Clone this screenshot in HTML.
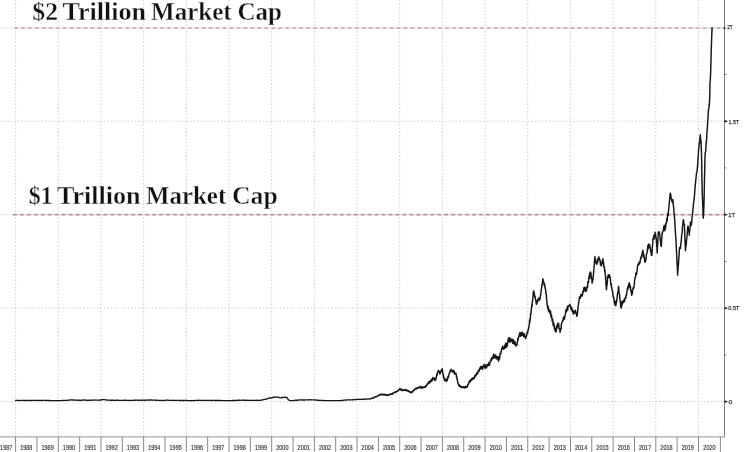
<!DOCTYPE html>
<html><head><meta charset="utf-8"><title>Market Cap</title>
<style>
html,body{margin:0;padding:0;background:#fff;}
body{width:750px;height:452px;overflow:hidden;position:relative;}
svg{position:absolute;left:0;top:0;}
.gv,.gh{stroke:#c8c8c8;stroke-width:1;stroke-dasharray:1.3 2.15;fill:none;}
.gh{stroke-dashoffset:3.1;}
.gv{stroke-dashoffset:3.2;}
.rh{stroke:#f3dbe0;stroke-width:2.2;fill:none;}
.r{stroke:#8c7580;stroke-width:1.1;stroke-dasharray:3.8 3.155;fill:none;}
.rh.top{stroke:#f8e8ec;stroke-width:1.8;}
.r.top{stroke:#8f7f86;stroke-width:0.9;}
.ax{stroke:#7a7a7a;stroke-width:1;}
.bx{stroke:#a8a8a8;stroke-width:1.2;}
.tk{stroke:#7c7c7c;stroke-width:0.9;}
.tri{fill:#222;}
.mt{stroke:#555;stroke-width:0.8;}
.ln{fill:none;stroke:#151515;stroke-width:1.3;stroke-linejoin:round;stroke-linecap:round;}
.ln2{stroke-width:1.45;}
.yl{font-family:"Liberation Sans",sans-serif;font-size:6.8px;fill:#444;stroke:#444;stroke-width:0.2;}
.rl{font-family:"Liberation Sans",sans-serif;font-size:6px;fill:#333;stroke:#333;stroke-width:0.25;}
.tt{font-family:"Liberation Serif",serif;font-weight:bold;font-size:25px;fill:#111;stroke:#fff;stroke-width:0.35;}
</style></head>
<body>
<svg width="750" height="452" viewBox="0 0 750 452">
<line x1="15.60" y1="0" x2="15.60" y2="436.8" class="gv"/>
<line x1="58.28" y1="0" x2="58.28" y2="436.8" class="gv"/>
<line x1="100.96" y1="0" x2="100.96" y2="436.8" class="gv"/>
<line x1="143.64" y1="0" x2="143.64" y2="436.8" class="gv"/>
<line x1="186.32" y1="0" x2="186.32" y2="436.8" class="gv"/>
<line x1="229.00" y1="0" x2="229.00" y2="436.8" class="gv"/>
<line x1="271.68" y1="0" x2="271.68" y2="436.8" class="gv"/>
<line x1="314.36" y1="0" x2="314.36" y2="436.8" class="gv"/>
<line x1="357.04" y1="0" x2="357.04" y2="436.8" class="gv"/>
<line x1="399.72" y1="0" x2="399.72" y2="436.8" class="gv"/>
<line x1="442.40" y1="0" x2="442.40" y2="436.8" class="gv"/>
<line x1="485.08" y1="0" x2="485.08" y2="436.8" class="gv"/>
<line x1="527.76" y1="0" x2="527.76" y2="436.8" class="gv"/>
<line x1="570.44" y1="0" x2="570.44" y2="436.8" class="gv"/>
<line x1="613.12" y1="0" x2="613.12" y2="436.8" class="gv"/>
<line x1="655.80" y1="0" x2="655.80" y2="436.8" class="gv"/>
<line x1="698.48" y1="0" x2="698.48" y2="436.8" class="gv"/>
<line x1="0" y1="401.60" x2="724.5" y2="401.60" class="gh"/>
<line x1="0" y1="308.15" x2="724.5" y2="308.15" class="gh"/>
<line x1="0" y1="214.70" x2="724.5" y2="214.70" class="gh"/>
<line x1="0" y1="121.25" x2="724.5" y2="121.25" class="gh"/>
<line x1="0" y1="27.80" x2="724.5" y2="27.80" class="gh"/>
<line x1="13.05" y1="214.70" x2="724.5" y2="214.70" class="rh"/>
<line x1="13.05" y1="214.70" x2="724.5" y2="214.70" class="r"/>
<line x1="14.05" y1="28.10" x2="724.5" y2="28.10" class="rh top"/>
<line x1="14.05" y1="28.10" x2="724.5" y2="28.10" class="r top"/>
<line x1="724.5" y1="0" x2="724.5" y2="437.3" class="ax"/>
<line x1="0" y1="436.8" x2="725.0" y2="436.8" class="bx"/>
<line x1="15.60" y1="436.8" x2="15.60" y2="452" class="tk"/>
<line x1="36.94" y1="436.8" x2="36.94" y2="452" class="tk"/>
<line x1="58.28" y1="436.8" x2="58.28" y2="452" class="tk"/>
<line x1="79.62" y1="436.8" x2="79.62" y2="452" class="tk"/>
<line x1="100.96" y1="436.8" x2="100.96" y2="452" class="tk"/>
<line x1="122.30" y1="436.8" x2="122.30" y2="452" class="tk"/>
<line x1="143.64" y1="436.8" x2="143.64" y2="452" class="tk"/>
<line x1="164.98" y1="436.8" x2="164.98" y2="452" class="tk"/>
<line x1="186.32" y1="436.8" x2="186.32" y2="452" class="tk"/>
<line x1="207.66" y1="436.8" x2="207.66" y2="452" class="tk"/>
<line x1="229.00" y1="436.8" x2="229.00" y2="452" class="tk"/>
<line x1="250.34" y1="436.8" x2="250.34" y2="452" class="tk"/>
<line x1="271.68" y1="436.8" x2="271.68" y2="452" class="tk"/>
<line x1="293.02" y1="436.8" x2="293.02" y2="452" class="tk"/>
<line x1="314.36" y1="436.8" x2="314.36" y2="452" class="tk"/>
<line x1="335.70" y1="436.8" x2="335.70" y2="452" class="tk"/>
<line x1="357.04" y1="436.8" x2="357.04" y2="452" class="tk"/>
<line x1="378.38" y1="436.8" x2="378.38" y2="452" class="tk"/>
<line x1="399.72" y1="436.8" x2="399.72" y2="452" class="tk"/>
<line x1="421.06" y1="436.8" x2="421.06" y2="452" class="tk"/>
<line x1="442.40" y1="436.8" x2="442.40" y2="452" class="tk"/>
<line x1="463.74" y1="436.8" x2="463.74" y2="452" class="tk"/>
<line x1="485.08" y1="436.8" x2="485.08" y2="452" class="tk"/>
<line x1="506.42" y1="436.8" x2="506.42" y2="452" class="tk"/>
<line x1="527.76" y1="436.8" x2="527.76" y2="452" class="tk"/>
<line x1="549.10" y1="436.8" x2="549.10" y2="452" class="tk"/>
<line x1="570.44" y1="436.8" x2="570.44" y2="452" class="tk"/>
<line x1="591.78" y1="436.8" x2="591.78" y2="452" class="tk"/>
<line x1="613.12" y1="436.8" x2="613.12" y2="452" class="tk"/>
<line x1="634.46" y1="436.8" x2="634.46" y2="452" class="tk"/>
<line x1="655.80" y1="436.8" x2="655.80" y2="452" class="tk"/>
<line x1="677.14" y1="436.8" x2="677.14" y2="452" class="tk"/>
<line x1="698.48" y1="436.8" x2="698.48" y2="452" class="tk"/>
<line x1="720.40" y1="436.8" x2="720.40" y2="452" class="tk"/>
<path d="M724.5 400.20 L728.1 401.60 L724.5 403.00Z" class="tri"/>
<line x1="724.5" y1="354.88" x2="726.5" y2="354.88" class="mt"/>
<path d="M724.5 306.75 L728.1 308.15 L724.5 309.55Z" class="tri"/>
<line x1="724.5" y1="261.43" x2="726.5" y2="261.43" class="mt"/>
<path d="M724.5 213.30 L728.1 214.70 L724.5 216.10Z" class="tri"/>
<line x1="724.5" y1="167.98" x2="726.5" y2="167.98" class="mt"/>
<path d="M724.5 119.85 L728.1 121.25 L724.5 122.65Z" class="tri"/>
<line x1="724.5" y1="74.53" x2="726.5" y2="74.53" class="mt"/>
<circle cx="724.5" cy="28.1" r="1.1" class="tri"/>
<polyline points="15.60,400.45 15.85,400.50 16.10,400.42 16.35,400.42 16.60,400.42 16.84,400.39 17.09,400.41 17.34,400.46 17.59,400.44 17.84,400.45 18.09,400.51 18.34,400.52 18.59,400.55 18.84,400.54 19.09,400.54 19.33,400.54 19.58,400.57 19.83,400.52 20.08,400.39 20.33,400.47 20.58,400.44 20.83,400.46 21.08,400.45 21.33,400.42 21.58,400.41 21.82,400.38 22.07,400.46 22.32,400.37 22.57,400.44 22.82,400.47 23.07,400.51 23.32,400.51 23.57,400.46 23.82,400.44 24.07,400.46 24.31,400.47 24.56,400.51 24.81,400.46 25.06,400.53 25.31,400.48 25.56,400.47 25.81,400.46 26.06,400.48 26.31,400.50 26.56,400.43 26.80,400.51 27.05,400.57 27.30,400.45 27.55,400.44 27.80,400.40 28.05,400.37 28.30,400.42 28.55,400.41 28.80,400.43 29.04,400.38 29.29,400.39 29.54,400.53 29.79,400.53 30.04,400.50 30.29,400.55 30.54,400.45 30.79,400.53 31.04,400.56 31.29,400.54 31.53,400.48 31.78,400.40 32.03,400.40 32.28,400.42 32.53,400.43 32.78,400.35 33.03,400.39 33.28,400.39 33.53,400.40 33.78,400.41 34.02,400.35 34.27,400.35 34.52,400.32 34.77,400.29 35.02,400.31 35.27,400.28 35.52,400.33 35.77,400.32 36.02,400.29 36.27,400.35 36.51,400.40 36.76,400.42 37.01,400.49 37.26,400.47 37.51,400.45 37.76,400.54 38.01,400.57 38.26,400.50 38.51,400.42 38.76,400.43 39.00,400.37 39.25,400.36 39.50,400.40 39.75,400.41 40.00,400.45 40.25,400.50 40.50,400.49 40.75,400.44 41.00,400.45 41.25,400.48 41.50,400.45 41.75,400.43 42.00,400.36 42.25,400.44 42.50,400.36 42.75,400.37 43.00,400.39 43.25,400.32 43.50,400.33 43.75,400.41 44.00,400.33 44.25,400.22 44.50,400.24 44.75,400.34 45.00,400.28 45.25,400.32 45.50,400.32 45.75,400.44 46.00,400.51 46.25,400.54 46.50,400.45 46.75,400.56 47.00,400.48 47.25,400.41 47.50,400.48 47.75,400.48 48.00,400.39 48.25,400.56 48.50,400.52 48.75,400.51 49.00,400.54 49.25,400.56 49.50,400.48 49.75,400.56 50.00,400.53 50.25,400.52 50.50,400.54 50.75,400.55 51.00,400.60 51.25,400.54 51.50,400.58 51.75,400.56 52.00,400.54 52.25,400.60 52.50,400.60 52.75,400.57 53.00,400.55 53.25,400.60 53.50,400.60 53.75,400.60 54.00,400.60 54.25,400.58 54.50,400.56 54.75,400.60 55.00,400.60 55.25,400.60 55.50,400.60 55.75,400.60 56.00,400.60 56.25,400.60 56.50,400.60 56.75,400.60 57.00,400.60 57.25,400.60 57.50,400.55 57.75,400.56 58.00,400.60 58.25,400.57 58.50,400.53 58.75,400.60 59.00,400.60 59.25,400.60 59.50,400.56 59.75,400.60 60.00,400.55 60.25,400.58 60.50,400.59 60.75,400.59 61.00,400.58 61.25,400.53 61.50,400.49 61.75,400.48 62.00,400.51 62.25,400.42 62.50,400.40 62.75,400.48 63.00,400.39 63.25,400.47 63.50,400.46 63.75,400.37 64.00,400.48 64.25,400.48 64.50,400.41 64.75,400.39 65.00,400.39 65.25,400.30 65.50,400.34 65.75,400.33 66.00,400.37 66.25,400.35 66.50,400.31 66.75,400.28 67.00,400.35 67.25,400.32 67.50,400.31 67.75,400.26 68.00,400.19 68.25,400.13 68.50,400.15 68.75,400.08 69.00,400.20 69.25,400.11 69.50,400.03 69.75,399.99 70.00,400.04 70.25,399.99 70.50,399.85 70.75,399.95 71.00,399.95 71.25,399.92 71.50,399.92 71.75,399.98 72.00,399.90 72.25,400.00 72.50,399.93 72.75,399.95 73.00,400.00 73.25,400.10 73.50,399.97 73.75,400.05 74.00,400.10 74.25,400.00 74.50,400.01 74.75,400.04 75.00,400.09 75.25,400.09 75.50,400.14 75.75,400.18 76.00,400.08 76.25,400.09 76.50,400.18 76.75,400.23 77.00,400.19 77.25,400.25 77.50,400.17 77.75,400.12 78.00,400.15 78.25,400.21 78.50,400.24 78.75,400.26 79.00,400.20 79.25,400.25 79.50,400.25 79.75,400.25 80.00,400.25 80.25,400.27 80.50,400.35 80.75,400.24 81.00,400.39 81.25,400.32 81.50,400.34 81.75,400.22 82.00,400.13 82.25,400.23 82.50,400.14 82.75,400.03 83.00,400.02 83.25,400.08 83.50,400.04 83.75,399.96 84.00,399.95 84.25,399.96 84.50,400.01 84.75,399.97 85.00,400.01 85.25,400.10 85.50,400.21 85.75,400.16 86.00,400.24 86.25,400.21 86.50,400.20 86.75,400.27 87.00,400.22 87.25,400.23 87.50,400.34 87.75,400.39 88.00,400.35 88.25,400.33 88.50,400.24 88.75,400.32 89.00,400.36 89.25,400.18 89.50,400.20 89.75,400.26 90.00,400.29 90.25,400.14 90.50,400.15 90.75,400.11 91.00,400.10 91.25,400.17 91.50,400.25 91.75,400.25 92.00,400.27 92.25,400.12 92.50,400.13 92.75,400.21 93.00,400.13 93.25,400.05 93.50,400.10 93.75,399.98 94.00,400.07 94.25,400.12 94.50,400.11 94.75,400.11 95.00,400.14 95.25,400.05 95.50,399.99 95.75,400.00 96.00,400.12 96.25,400.17 96.50,400.19 96.75,400.16 97.00,400.15 97.25,400.18 97.50,400.14 97.75,400.17 98.00,400.09 98.25,400.19 98.50,400.14 98.75,400.27 99.00,400.18 99.25,400.08 99.50,400.06 99.75,400.03 100.00,400.05 100.25,399.95 100.50,399.88 100.75,399.99 101.00,399.94 101.25,399.80 101.50,399.72 101.75,399.76 102.00,399.79 102.25,399.72 102.50,399.66 102.75,399.70 103.00,399.77 103.25,399.67 103.50,399.60 103.75,399.67 104.00,399.65 104.25,399.70 104.50,399.59 104.75,399.61 105.00,399.70 105.25,399.77 105.50,399.83 105.75,399.87 106.00,399.96 106.25,399.99 106.50,400.06 106.75,399.98 107.00,400.00 107.25,400.13 107.50,400.09 107.75,400.03 108.00,400.13 108.25,400.11 108.50,400.15 108.75,400.11 109.00,400.13 109.25,400.15 109.50,400.19 109.75,400.20 110.00,400.25 110.25,400.30 110.50,400.30 110.75,400.30 111.00,400.21 111.25,400.27 111.50,400.24 111.75,400.29 112.00,400.23 112.25,400.31 112.50,400.25 112.75,400.19 113.00,400.25 113.25,400.24 113.50,400.37 113.75,400.33 114.00,400.29 114.25,400.24 114.50,400.35 114.75,400.28 115.00,400.23 115.25,400.32 115.50,400.29 115.75,400.36 116.00,400.22 116.25,400.27 116.50,400.24 116.75,400.22 117.00,400.25 117.25,400.18 117.50,400.19 117.75,400.16 118.00,400.22 118.25,400.31 118.50,400.28 118.75,400.38 119.00,400.31 119.25,400.41 119.50,400.33 119.75,400.31 120.00,400.37 120.25,400.39 120.50,400.32 120.75,400.46 121.00,400.43 121.25,400.36 121.50,400.39 121.75,400.32 122.00,400.35 122.25,400.37 122.50,400.40 122.75,400.42 123.00,400.31 123.25,400.30 123.50,400.29 123.75,400.30 124.00,400.22 124.25,400.22 124.50,400.23 124.75,400.31 125.00,400.26 125.25,400.20 125.50,400.26 125.75,400.30 126.00,400.33 126.25,400.37 126.50,400.31 126.75,400.27 127.00,400.42 127.25,400.46 127.50,400.37 127.75,400.37 128.00,400.46 128.25,400.41 128.50,400.46 128.75,400.42 129.00,400.39 129.25,400.44 129.50,400.49 129.75,400.37 130.00,400.35 130.25,400.34 130.50,400.35 130.75,400.36 131.00,400.36 131.25,400.47 131.50,400.41 131.75,400.45 132.00,400.32 132.25,400.42 132.50,400.30 132.75,400.35 133.00,400.36 133.25,400.27 133.50,400.32 133.75,400.28 134.00,400.27 134.25,400.28 134.50,400.14 134.75,400.24 135.00,400.18 135.25,400.13 135.50,400.23 135.75,400.16 136.00,400.25 136.25,400.12 136.50,400.08 136.75,400.16 137.00,400.10 137.25,400.11 137.50,400.24 137.75,400.18 138.00,400.27 138.25,400.26 138.50,400.33 138.75,400.31 139.00,400.30 139.25,400.26 139.50,400.16 139.75,400.14 140.00,400.19 140.25,400.20 140.50,400.29 140.75,400.30 141.00,400.25 141.25,400.30 141.50,400.22 141.75,400.19 142.00,400.26 142.25,400.16 142.50,400.16 142.75,400.20 143.00,400.22 143.25,400.25 143.50,400.22 143.75,400.21 144.00,400.18 144.25,400.18 144.50,400.25 144.75,400.25 145.00,400.23 145.25,400.29 145.50,400.17 145.75,400.14 146.00,400.16 146.25,400.20 146.50,400.21 146.75,400.17 147.00,400.07 147.25,400.04 147.50,400.00 147.75,400.06 148.00,400.01 148.25,399.98 148.50,400.07 148.75,400.04 149.00,400.08 149.25,400.05 149.50,400.00 149.75,400.11 150.00,399.98 150.25,400.04 150.50,400.02 150.75,399.95 151.00,399.93 151.25,400.08 151.50,399.96 151.75,400.09 152.00,400.16 152.25,400.04 152.50,400.01 152.75,400.10 153.00,400.09 153.25,400.05 153.50,400.12 153.75,400.06 154.00,400.12 154.25,400.17 154.50,400.12 154.75,400.24 155.00,400.20 155.25,400.22 155.50,400.11 155.75,400.29 156.00,400.25 156.25,400.24 156.50,400.32 156.75,400.28 157.00,400.24 157.25,400.18 157.50,400.24 157.75,400.25 158.00,400.34 158.25,400.37 158.50,400.42 158.75,400.45 159.00,400.46 159.25,400.42 159.50,400.43 159.75,400.41 160.00,400.45 160.25,400.45 160.50,400.41 160.75,400.47 161.00,400.42 161.25,400.53 161.50,400.43 161.75,400.46 162.00,400.46 162.25,400.53 162.50,400.51 162.75,400.50 163.00,400.48 163.25,400.40 163.50,400.40 163.75,400.43 164.00,400.44 164.25,400.45 164.50,400.50 164.75,400.44 165.00,400.40 165.25,400.33 165.50,400.34 165.75,400.26 166.00,400.28 166.25,400.19 166.50,400.16 166.75,400.16 167.00,400.16 167.25,400.07 167.50,400.10 167.75,400.18 168.00,400.13 168.25,400.19 168.50,400.24 168.75,400.30 169.00,400.32 169.25,400.29 169.50,400.34 169.75,400.34 170.00,400.37 170.25,400.40 170.50,400.36 170.75,400.37 171.00,400.31 171.25,400.39 171.50,400.31 171.75,400.27 172.00,400.40 172.25,400.25 172.50,400.33 172.75,400.44 173.00,400.36 173.25,400.41 173.50,400.40 173.75,400.44 174.00,400.45 174.25,400.41 174.50,400.43 174.75,400.46 175.00,400.43 175.25,400.50 175.50,400.50 175.75,400.45 176.00,400.39 176.25,400.39 176.50,400.35 176.75,400.32 177.00,400.39 177.25,400.36 177.50,400.38 177.75,400.39 178.00,400.36 178.25,400.41 178.50,400.43 178.75,400.38 179.00,400.41 179.25,400.45 179.50,400.49 179.75,400.52 180.00,400.50 180.25,400.54 180.50,400.49 180.75,400.52 181.00,400.51 181.25,400.44 181.50,400.50 181.75,400.41 182.00,400.49 182.25,400.51 182.50,400.50 182.75,400.50 183.00,400.45 183.25,400.48 183.50,400.46 183.75,400.50 184.00,400.48 184.25,400.52 184.50,400.46 184.75,400.41 185.00,400.47 185.25,400.43 185.50,400.39 185.75,400.42 186.00,400.51 186.25,400.36 186.50,400.47 186.75,400.43 187.00,400.57 187.25,400.58 187.50,400.56 187.75,400.51 188.00,400.52 188.25,400.56 188.50,400.60 188.75,400.60 189.00,400.60 189.25,400.60 189.50,400.59 189.75,400.56 190.00,400.55 190.25,400.58 190.50,400.58 190.75,400.60 191.00,400.51 191.25,400.58 191.50,400.51 191.75,400.54 192.00,400.58 192.25,400.52 192.50,400.60 192.75,400.58 193.00,400.56 193.25,400.58 193.50,400.55 193.75,400.55 194.00,400.53 194.25,400.55 194.50,400.52 194.75,400.54 195.00,400.46 195.25,400.46 195.50,400.48 195.75,400.43 196.00,400.47 196.25,400.42 196.50,400.45 196.75,400.43 197.00,400.41 197.25,400.44 197.50,400.37 197.75,400.37 198.00,400.31 198.25,400.33 198.50,400.33 198.75,400.32 199.00,400.29 199.25,400.32 199.50,400.19 199.75,400.27 200.00,400.33 200.25,400.33 200.50,400.31 200.75,400.31 201.00,400.32 201.25,400.34 201.50,400.46 201.75,400.42 202.00,400.46 202.25,400.48 202.50,400.50 202.75,400.46 203.00,400.43 203.25,400.44 203.50,400.47 203.75,400.43 204.00,400.44 204.25,400.36 204.50,400.38 204.75,400.30 205.00,400.40 205.25,400.33 205.50,400.33 205.75,400.34 206.00,400.37 206.25,400.40 206.50,400.35 206.75,400.33 207.00,400.35 207.25,400.35 207.50,400.33 207.75,400.33 208.00,400.33 208.25,400.34 208.50,400.34 208.75,400.37 209.00,400.42 209.25,400.46 209.50,400.32 209.75,400.43 210.00,400.43 210.25,400.44 210.50,400.50 210.75,400.51 211.00,400.52 211.25,400.48 211.50,400.38 211.75,400.47 212.00,400.46 212.25,400.51 212.50,400.50 212.75,400.43 213.00,400.38 213.25,400.34 213.50,400.38 213.75,400.35 214.00,400.32 214.25,400.30 214.50,400.32 214.75,400.43 215.00,400.40 215.25,400.53 215.50,400.44 215.75,400.55 216.00,400.50 216.25,400.45 216.50,400.53 216.75,400.48 217.00,400.53 217.25,400.49 217.50,400.45 217.75,400.48 218.00,400.46 218.25,400.49 218.50,400.45 218.75,400.30 219.00,400.41 219.25,400.46 219.50,400.46 219.75,400.50 220.00,400.45 220.25,400.48 220.50,400.58 220.75,400.50 221.00,400.47 221.25,400.53 221.50,400.53 221.75,400.53 222.00,400.51 222.25,400.54 222.50,400.60 222.75,400.60 223.00,400.60 223.25,400.60 223.50,400.60 223.75,400.60 224.00,400.60 224.25,400.56 224.50,400.60 224.75,400.60 225.00,400.60 225.25,400.60 225.50,400.60 225.75,400.60 226.00,400.60 226.25,400.60 226.50,400.60 226.75,400.60 227.00,400.60 227.25,400.60 227.50,400.58 227.75,400.60 228.00,400.60 228.25,400.60 228.50,400.60 228.75,400.60 229.00,400.60 229.25,400.60 229.50,400.60 229.75,400.60 230.00,400.60 230.25,400.57 230.50,400.60 230.75,400.60 231.00,400.60 231.25,400.59 231.50,400.51 231.75,400.55 232.00,400.54 232.25,400.49 232.50,400.52 232.75,400.47 233.00,400.47 233.25,400.54 233.50,400.44 233.75,400.50 234.00,400.51 234.25,400.59 234.50,400.45 234.75,400.50 235.00,400.43 235.25,400.45 235.50,400.50 235.75,400.39 236.00,400.40 236.25,400.39 236.50,400.40 236.75,400.24 237.00,400.26 237.25,400.23 237.50,400.39 237.75,400.40 238.00,400.36 238.25,400.29 238.50,400.25 238.75,400.29 239.00,400.24 239.25,400.26 239.50,400.25 239.75,400.27 240.00,400.21 240.25,400.34 240.50,400.35 240.75,400.30 241.00,400.37 241.25,400.23 241.50,400.21 241.75,400.20 242.00,400.19 242.25,400.22 242.50,400.16 242.75,400.14 243.00,400.20 243.25,400.20 243.50,400.32 243.75,400.19 244.00,400.33 244.25,400.17 244.50,400.31 244.75,400.28 245.00,400.23 245.25,400.29 245.50,400.27 245.75,400.30 246.00,400.32 246.25,400.34 246.50,400.40 246.75,400.37 247.00,400.35 247.25,400.23 247.50,400.25 247.75,400.43 248.00,400.34 248.25,400.45 248.50,400.36 248.75,400.42 249.00,400.29 249.25,400.39 249.50,400.30 249.75,400.33 250.00,400.35 250.25,400.38 250.51,400.37 250.76,400.42 251.01,400.35 251.26,400.25 251.52,400.30 251.77,400.33 252.02,400.29 252.27,400.37 252.53,400.37 252.78,400.38 253.03,400.27 253.28,400.34 253.54,400.36 253.79,400.40 254.04,400.35 254.29,400.37 254.55,400.32 254.80,400.38 255.05,400.33 255.31,400.41 255.56,400.36 255.81,400.27 256.06,400.26 256.32,400.30 256.57,400.32 256.82,400.20 257.07,400.35 257.33,400.30 257.58,400.31 257.83,400.26 258.08,400.33 258.34,400.42 258.59,400.29 258.84,400.37 259.09,400.44 259.35,400.31 259.60,400.35 259.85,400.40 260.09,400.32 260.34,400.22 260.58,400.24 260.83,400.17 261.08,400.05 261.32,400.03 261.57,399.96 261.82,399.95 262.06,400.00 262.31,399.89 262.55,399.87 262.80,399.81 263.05,399.79 263.29,399.58 263.54,399.64 263.78,399.62 264.03,399.53 264.28,399.37 264.52,399.42 264.77,399.42 265.02,399.29 265.26,399.33 265.51,399.09 265.75,399.09 266.00,399.10 266.25,398.99 266.51,399.05 266.76,398.88 267.01,398.90 267.26,398.93 267.52,398.59 267.77,398.58 268.02,398.55 268.27,398.41 268.53,398.17 268.78,398.24 269.03,398.20 269.28,397.97 269.54,397.97 269.79,397.88 270.04,397.93 270.29,397.96 270.55,397.80 270.80,397.80 271.05,398.04 271.29,397.77 271.54,397.96 271.78,397.60 272.03,397.51 272.28,397.75 272.52,397.52 272.77,397.32 273.02,397.41 273.26,397.40 273.51,397.44 273.75,397.07 274.00,397.07 274.25,397.33 274.49,397.23 274.74,396.96 274.98,397.07 275.23,397.00 275.48,397.13 275.72,397.08 275.97,397.16 276.22,397.06 276.46,397.01 276.71,397.11 276.95,397.18 277.20,397.00 277.45,397.13 277.69,397.15 277.94,397.33 278.18,397.47 278.43,397.35 278.68,397.37 278.92,397.47 279.17,397.57 279.42,397.76 279.66,397.69 279.91,397.74 280.15,397.73 280.40,397.80 280.65,397.87 280.89,397.87 281.14,397.92 281.38,397.48 281.63,397.48 281.88,397.65 282.12,397.27 282.37,397.31 282.62,397.55 282.86,397.56 283.11,397.69 283.35,397.59 283.60,397.50 283.85,397.33 284.09,397.24 284.34,397.23 284.58,397.24 284.83,397.27 285.08,397.40 285.32,397.41 285.57,397.17 285.82,397.24 286.06,397.25 286.31,397.57 286.55,397.28 286.80,397.30 287.07,397.61 287.33,397.87 287.60,398.58 287.87,398.97 288.13,399.51 288.40,399.85 288.67,400.05 288.93,400.12 289.20,400.22 289.47,400.40 289.73,400.51 290.00,400.60 290.25,400.54 290.50,400.60 290.75,400.60 291.00,400.60 291.25,400.59 291.50,400.57 291.75,400.52 292.00,400.57 292.25,400.57 292.50,400.60 292.75,400.60 293.00,400.56 293.25,400.55 293.50,400.51 293.75,400.42 294.00,400.51 294.25,400.46 294.50,400.54 294.75,400.36 295.00,400.35 295.25,400.26 295.50,400.21 295.75,400.33 296.00,400.33 296.25,400.25 296.50,400.30 296.75,400.30 297.00,400.23 297.25,400.20 297.50,400.23 297.75,400.10 298.00,400.05 298.25,400.10 298.50,400.02 298.75,400.00 299.00,400.00 299.25,399.95 299.50,399.98 299.75,399.94 300.00,399.91 300.25,400.01 300.50,399.87 300.75,399.93 301.00,399.85 301.25,399.95 301.50,399.99 301.75,399.99 302.00,399.98 302.25,399.96 302.50,400.02 302.75,399.96 303.00,399.95 303.25,400.04 303.50,399.96 303.75,399.98 304.00,400.02 304.25,399.98 304.50,400.00 304.75,399.98 305.00,399.87 305.25,399.93 305.50,399.88 305.75,399.96 306.00,399.96 306.25,399.88 306.50,399.86 306.75,399.88 307.00,399.94 307.25,399.87 307.50,399.99 307.75,399.92 308.00,399.89 308.25,399.82 308.50,399.82 308.75,399.93 309.00,399.85 309.25,399.85 309.50,399.71 309.75,399.74 310.00,399.73 310.25,399.72 310.50,399.77 310.75,399.80 311.00,399.77 311.25,399.80 311.50,399.92 311.75,399.79 312.00,399.87 312.25,399.81 312.50,399.87 312.75,399.79 313.00,399.88 313.25,399.94 313.50,399.90 313.75,399.79 314.00,399.85 314.25,399.89 314.50,399.81 314.75,399.84 315.00,399.84 315.24,399.98 315.49,399.95 315.74,399.93 315.99,399.95 316.24,400.06 316.49,400.11 316.74,400.22 316.99,400.23 317.24,400.24 317.48,400.32 317.73,400.23 317.98,400.26 318.23,400.25 318.48,400.26 318.73,400.24 318.98,400.30 319.23,400.28 319.48,400.34 319.72,400.40 319.97,400.38 320.22,400.42 320.47,400.39 320.72,400.29 320.97,400.30 321.22,400.37 321.47,400.39 321.72,400.35 321.96,400.41 322.21,400.44 322.46,400.50 322.71,400.49 322.96,400.46 323.21,400.48 323.46,400.46 323.71,400.46 323.96,400.50 324.20,400.55 324.45,400.55 324.70,400.60 324.95,400.60 325.20,400.60 325.45,400.60 325.70,400.60 325.94,400.60 326.19,400.60 326.44,400.60 326.69,400.60 326.94,400.60 327.19,400.60 327.43,400.60 327.68,400.60 327.93,400.60 328.18,400.60 328.43,400.60 328.68,400.60 328.92,400.60 329.17,400.60 329.42,400.60 329.67,400.60 329.92,400.60 330.17,400.60 330.41,400.60 330.66,400.60 330.91,400.60 331.16,400.60 331.41,400.60 331.66,400.60 331.90,400.60 332.15,400.60 332.40,400.60 332.65,400.60 332.90,400.60 333.14,400.60 333.39,400.60 333.64,400.60 333.89,400.60 334.14,400.60 334.39,400.60 334.63,400.60 334.88,400.60 335.13,400.60 335.38,400.60 335.63,400.60 335.88,400.60 336.12,400.60 336.37,400.60 336.62,400.60 336.87,400.60 337.12,400.60 337.37,400.60 337.61,400.60 337.86,400.60 338.11,400.60 338.36,400.60 338.61,400.60 338.86,400.60 339.10,400.60 339.35,400.60 339.60,400.60 339.85,400.60 340.11,400.57 340.36,400.60 340.61,400.57 340.86,400.55 341.12,400.57 341.37,400.50 341.62,400.55 341.87,400.51 342.13,400.51 342.38,400.48 342.63,400.47 342.88,400.43 343.14,400.29 343.39,400.33 343.64,400.20 343.89,400.22 344.15,400.21 344.40,400.22 344.65,400.12 344.91,400.14 345.16,400.20 345.41,400.16 345.66,400.09 345.92,399.89 346.17,400.03 346.42,400.00 346.67,400.03 346.93,400.03 347.18,399.90 347.43,399.97 347.68,399.94 347.94,399.93 348.19,399.82 348.44,399.81 348.69,399.89 348.95,399.87 349.20,399.85 349.45,399.82 349.70,399.80 349.95,399.73 350.20,399.87 350.46,399.85 350.71,399.80 350.96,399.91 351.21,399.96 351.46,399.85 351.71,399.83 351.96,399.91 352.21,399.86 352.47,399.81 352.72,399.80 352.97,399.67 353.22,399.72 353.47,399.69 353.72,399.74 353.97,399.75 354.22,399.46 354.47,399.54 354.73,399.57 354.98,399.57 355.23,399.56 355.48,399.58 355.73,399.55 355.98,399.43 356.23,399.37 356.48,399.47 356.73,399.49 356.99,399.46 357.24,399.42 357.49,399.28 357.74,399.40 357.99,399.39 358.24,399.34 358.49,399.44 358.74,399.35 359.00,399.37 359.25,399.34 359.50,399.28 359.75,399.27 360.00,399.30 360.25,399.21 360.50,399.27 360.74,399.31 360.99,399.37 361.24,399.31 361.49,399.23 361.73,399.33 361.98,399.39 362.23,399.39 362.48,399.27 362.72,399.37 362.97,399.39 363.22,399.22 363.47,399.15 363.71,399.16 363.96,399.25 364.21,399.30 364.46,399.28 364.70,399.32 364.95,399.08 365.20,399.14 365.45,399.22 365.70,399.24 365.94,399.14 366.19,399.22 366.44,399.14 366.69,398.94 366.93,398.95 367.18,398.79 367.43,399.00 367.68,398.82 367.92,398.90 368.17,398.97 368.42,398.89 368.67,398.96 368.91,398.81 369.16,399.04 369.41,398.95 369.66,399.07 369.90,398.85 370.15,398.97 370.40,398.90 370.65,398.93 370.91,398.63 371.16,398.50 371.42,398.50 371.67,398.58 371.93,398.30" class="ln"/>
<polyline points="371.93,398.30 372.18,398.25 372.44,398.35 372.69,398.25 372.95,398.22 373.20,397.91 373.45,398.01 373.71,397.57 373.96,397.61 374.22,397.17 374.47,397.14 374.73,397.08 374.98,397.05 375.24,397.15 375.49,396.96 375.75,396.63 376.00,396.80 376.25,396.69 376.51,396.78 376.76,396.27 377.02,396.45 377.27,396.23 377.53,396.22 377.78,396.12 378.04,395.84 378.29,395.49 378.55,395.31 378.80,395.30 379.05,395.27 379.31,394.96 379.56,394.75 379.82,395.03 380.07,394.74 380.33,394.29 380.58,394.84 380.84,394.28 381.09,394.51 381.35,394.22 381.60,394.40 381.85,394.81 382.09,394.19 382.34,394.67 382.58,394.48 382.83,394.82 383.08,394.82 383.32,394.29 383.57,394.89 383.82,395.03 384.06,394.52 384.31,394.29 384.55,394.24 384.80,394.40 385.04,394.82 385.28,394.77 385.52,394.96 385.76,395.15 386.00,394.57 386.24,394.78 386.48,395.19 386.72,395.27 386.96,395.06 387.20,395.50 387.45,395.31 387.71,395.20 387.96,395.33 388.21,394.78 388.46,394.56 388.72,395.21 388.97,395.05 389.22,394.74 389.47,394.45 389.73,394.32 389.98,394.32 390.23,394.11 390.48,394.02 390.74,394.29 390.99,394.21 391.24,394.28 391.49,394.13 391.75,393.67 392.00,393.90 392.25,394.17 392.50,393.18 392.75,393.48 393.00,393.65 393.25,392.91 393.50,392.87 393.75,392.73 394.00,392.42 394.25,392.23 394.50,392.16 394.75,392.50 395.00,392.53 395.25,392.51 395.50,391.71 395.75,392.21 396.00,392.00 396.25,391.66 396.50,391.81 396.75,391.64 397.00,391.52 397.25,391.01 397.50,391.18 397.75,390.93 398.00,390.15 398.25,390.25 398.50,389.68 398.75,390.39 399.00,389.73 399.25,389.71 399.50,389.13 399.75,388.75 400.00,388.80 400.24,388.90 400.48,389.34 400.72,389.87 400.96,389.99 401.20,389.91 401.44,389.02 401.68,389.60 401.92,390.16 402.16,390.40 402.40,390.40 402.65,390.02 402.90,390.63 403.15,390.24 403.40,390.43 403.65,389.90 403.90,390.22 404.15,389.98 404.40,389.96 404.65,389.63 404.90,389.87 405.15,390.47 405.40,389.85 405.65,389.77 405.90,390.40 406.15,389.93 406.40,389.90 406.65,389.90 406.91,390.40 407.16,390.99 407.41,390.31 407.66,391.16 407.92,390.85 408.17,390.70 408.42,391.33 408.67,391.21 408.93,390.95 409.18,391.80 409.43,391.63 409.68,391.84 409.94,392.03 410.19,392.57 410.44,392.51 410.69,391.86 410.95,392.66 411.20,392.80 411.45,392.45 411.69,391.83 411.94,392.30 412.18,392.10 412.43,392.04 412.68,391.63 412.92,390.84 413.17,390.64 413.42,390.38 413.66,390.77 413.91,389.79 414.15,389.49 414.40,389.60 414.65,389.88 414.91,389.15 415.16,389.15 415.42,388.95 415.67,388.27 415.93,388.25 416.18,389.05 416.44,388.88 416.69,388.62 416.95,387.75 417.20,387.82 417.45,387.44 417.71,388.00 417.96,387.54 418.22,387.40 418.47,387.45 418.73,387.93 418.98,387.48 419.24,387.91 419.49,387.03 419.75,387.84 420.00,387.20 420.25,387.73 420.50,386.57 420.75,387.06 421.00,387.60 421.25,386.60 421.50,387.92 421.75,386.77 422.00,387.68 422.25,387.18 422.50,388.12 422.75,387.57 423.00,387.65 423.25,387.09 423.50,387.27 423.75,387.49 424.00,387.20 424.24,386.93 424.48,387.28 424.72,386.64 424.96,387.39 425.20,387.06 425.44,386.09 425.68,385.89 425.92,386.79 426.16,385.78 426.40,385.90 426.65,385.75 426.90,384.46 427.15,384.56 427.40,383.59 427.65,383.66 427.90,383.92 428.15,383.18 428.40,383.57 428.65,381.86 428.90,383.14 429.15,381.56 429.40,382.99 429.65,382.91 429.90,382.33 430.15,381.27 430.40,380.80 430.65,381.35 430.89,380.16 431.14,381.51 431.38,379.20 431.63,380.40 431.88,381.03 432.12,379.04 432.37,380.31 432.62,379.29 432.86,377.59 433.11,378.25 433.35,378.48 433.60,378.40 433.87,379.11 434.13,378.06 434.40,379.53 434.67,380.25 434.93,380.24 435.20,380.00 435.45,380.43 435.69,378.35 435.94,378.91 436.18,378.24 436.43,376.63 436.68,375.04 436.92,374.09 437.17,375.30 437.42,372.41 437.66,372.49 437.91,372.31 438.15,370.52 438.40,371.20 438.67,371.21 438.93,371.17 439.20,371.06 439.47,371.82 439.73,373.99 440.00,373.60 440.26,371.76 440.52,372.92 440.79,371.63 441.05,371.66 441.31,369.95 441.58,370.73 441.84,370.26 442.10,369.60 442.35,368.82 442.59,372.20 442.84,373.66 443.08,375.06 443.33,374.69 443.57,377.18 443.82,377.27 444.06,378.76 444.31,377.71 444.55,380.72 444.80,380.00 445.07,379.13 445.33,379.65 445.60,379.67 445.87,380.28 446.13,380.75 446.40,381.60 446.65,380.22 446.90,378.76 447.15,380.45 447.40,379.57 447.65,379.04 447.90,376.57 448.15,377.61 448.40,377.32 448.65,375.94 448.90,374.83 449.15,373.96 449.40,373.33 449.65,372.46 449.90,371.64 450.15,371.64 450.40,370.40 450.64,371.77 450.88,370.07 451.12,369.23 451.36,369.78 451.60,369.98 451.84,369.93 452.08,371.09 452.32,371.07 452.56,371.77 452.80,371.20 453.05,372.29 453.29,372.02 453.54,370.37 453.78,372.28 454.03,370.72 454.28,371.96 454.52,374.07 454.77,373.16 455.02,374.10 455.26,373.66 455.51,373.14 455.75,372.90 456.00,374.40 456.26,374.13 456.51,377.17 456.77,376.55 457.02,379.34 457.28,379.21 457.53,380.64 457.79,383.03 458.04,382.75 458.30,383.90 458.55,384.81 458.80,384.52 459.05,386.17 459.30,384.98 459.55,386.17 459.80,385.90 460.05,386.36 460.30,385.65 460.55,386.75 460.80,386.66 461.05,387.49 461.30,386.87 461.55,387.31 461.80,387.38 462.05,386.95 462.30,387.17 462.55,387.53 462.80,387.59 463.05,386.95 463.30,386.64 463.55,387.59 463.80,387.30 464.05,387.78 464.30,387.99 464.55,387.04 464.80,387.56 465.05,387.33 465.30,386.26 465.55,386.85 465.80,387.58 466.05,387.23 466.30,386.70 466.55,387.34 466.80,386.90 467.05,387.26 467.30,386.40 467.55,386.18 467.80,384.60 468.05,384.25 468.30,384.29 468.55,384.02 468.80,382.90 469.05,381.96 469.30,381.12 469.55,381.00 469.80,380.97 470.05,382.01 470.30,381.74 470.55,379.63 470.80,379.90 471.05,380.43 471.30,378.97 471.55,380.20 471.80,379.61 472.05,379.93 472.30,378.56 472.55,378.02 472.80,379.17 473.05,378.56 473.30,378.02 473.55,378.54 473.80,377.90 474.05,377.45 474.30,378.56 474.55,376.40 474.80,375.61 475.05,375.39 475.30,376.06 475.55,376.25 475.80,375.61 476.05,374.43 476.30,375.22 476.55,372.93 476.80,373.90 477.05,373.26 477.30,373.19 477.55,373.97 477.80,371.90 478.05,372.05 478.30,370.69 478.55,370.82 478.80,370.10 479.05,371.39 479.30,370.47 479.55,369.52 479.80,368.10 480.05,368.75 480.30,367.28 480.55,369.06 480.80,367.90 481.04,366.31 481.28,368.44 481.52,367.74 481.77,367.77 482.01,367.12 482.25,366.45 482.49,367.80 482.73,369.23 482.98,366.87 483.22,366.65 483.46,365.93 483.70,366.40 483.94,364.85 484.18,364.53 484.43,366.17 484.67,367.20 484.91,367.89 485.15,364.73 485.39,367.91 485.63,366.05 485.88,366.71 486.12,368.00 486.36,366.98 486.60,367.30 486.85,366.30 487.11,364.18 487.36,366.10 487.62,366.03 487.87,365.66 488.12,364.62 488.38,365.24 488.63,365.14 488.88,362.72 489.14,365.28 489.39,365.35 489.65,364.55 489.90,362.90 490.14,362.07 490.39,360.80 490.63,361.22 490.88,360.14 491.12,358.95 491.37,360.66 491.61,358.56 491.86,357.83 492.10,357.40 492.34,358.75 492.59,358.65 492.83,358.22 493.08,358.14 493.32,355.38 493.57,355.22 493.81,353.95 494.06,358.20 494.30,356.30 494.54,355.63 494.79,357.51 495.03,357.13 495.28,356.05 495.52,354.87 495.77,355.47 496.01,356.11 496.26,358.90 496.50,358.00 496.76,358.64 497.01,357.44 497.27,356.67 497.52,357.81 497.78,356.73 498.03,360.07 498.29,359.62 498.54,361.05 498.80,359.60 499.05,358.99 499.31,356.21 499.56,358.95 499.82,356.08 500.07,353.45 500.32,352.91 500.58,353.38 500.83,353.68 501.08,351.14 501.34,351.46 501.59,348.61 501.85,347.92 502.10,348.50 502.35,348.73 502.61,346.01 502.86,347.50 503.12,347.53 503.37,348.96 503.62,349.22 503.88,347.23 504.13,348.38 504.38,348.61 504.64,347.10 504.89,345.03 505.15,348.15 505.40,346.30 505.65,343.61 505.91,343.04 506.16,343.44 506.42,347.18 506.67,343.58 506.92,345.45 507.18,346.24 507.43,343.67 507.68,343.91 507.94,339.98 508.19,339.14 508.45,338.06 508.70,340.40 508.94,338.38 509.19,341.22 509.43,341.30 509.68,341.90 509.92,337.60 510.17,341.46 510.41,340.69 510.66,341.95 510.90,340.80 511.15,340.32 511.41,339.13 511.66,341.12 511.92,339.05 512.17,340.44 512.42,339.40 512.68,343.17 512.93,341.47 513.18,340.87 513.44,340.06 513.69,343.15 513.95,343.88 514.20,343.00 514.46,344.04 514.71,341.33 514.97,341.99 515.22,342.45 515.48,345.79 515.73,345.92 515.99,345.87 516.24,345.20 516.50,345.20 516.74,344.76 516.99,345.08 517.23,341.93 517.48,342.39 517.72,338.49 517.97,340.35 518.21,338.08 518.46,338.08 518.70,336.40 518.95,336.96 519.21,334.41 519.46,334.21 519.72,334.26 519.97,332.40 520.22,333.25 520.48,335.94 520.73,336.26 520.98,333.13 521.24,335.28 521.49,334.56 521.75,335.31 522.00,332.00 522.24,332.50 522.49,332.74 522.73,333.09 522.98,335.54 523.22,333.20 523.47,336.19 523.71,335.07 523.96,336.90 524.20,335.30 524.44,333.96 524.69,335.49 524.93,336.88 525.18,336.82 525.42,338.09 525.67,338.59 525.91,336.53 526.16,336.44 526.40,336.40 526.64,335.28 526.89,333.44 527.13,332.65 527.38,331.84 527.62,333.07 527.87,331.08 528.11,329.54 528.36,329.99 528.60,328.60 528.84,327.32 529.09,325.13 529.33,324.52 529.58,319.88 529.82,322.54 530.07,318.29 530.31,318.88 530.56,313.47 530.80,314.20 531.04,313.21 531.28,308.99 531.52,307.46 531.77,304.82 532.01,306.71 532.25,301.94 532.49,301.55 532.73,299.37 532.98,296.21 533.22,293.53 533.46,291.17 533.70,291.00 533.95,293.64 534.19,292.42 534.44,294.44 534.68,297.24 534.93,296.03 535.17,296.88 535.42,298.27 535.66,299.89 535.91,300.67 536.15,303.47 536.40,304.30 536.64,302.24 536.89,302.36 537.13,303.04 537.38,300.34 537.62,300.07 537.87,301.25 538.11,299.08 538.36,299.20 538.60,299.90 538.86,298.01 539.11,299.92 539.37,299.02 539.63,300.06 539.89,299.03 540.14,298.30 540.40,296.10 540.66,293.92 540.92,293.93 541.18,289.72 541.44,289.12 541.70,286.52 541.96,284.47 542.22,285.27 542.48,282.02 542.74,279.17 543.00,278.80 543.24,281.65 543.49,282.08 543.73,281.54 543.98,283.58 544.22,284.95 544.47,285.71 544.71,283.91 544.96,288.12 545.20,287.70 545.44,288.94 545.69,289.74 545.93,293.60 546.18,293.80 546.42,296.08 546.67,300.21 546.91,301.40 547.16,305.36 547.40,305.40 547.64,308.21 547.89,306.02 548.13,306.09 548.37,311.06 548.61,309.05 548.86,310.19 549.10,311.10 549.34,312.23 549.59,310.03 549.83,310.99 550.07,310.84 550.31,314.27 550.56,311.14 550.80,314.20 551.04,317.09 551.29,314.38 551.53,315.24 551.78,317.53 552.02,319.06 552.27,321.46 552.51,318.70 552.76,320.61 553.00,323.10 553.25,325.79 553.51,323.31 553.76,323.11 554.02,325.02 554.27,326.09 554.53,329.26 554.78,330.11 555.04,327.91 555.29,328.86 555.55,331.86 555.80,330.80 556.06,331.87 556.31,331.61 556.57,326.90 556.82,325.42 557.08,328.27 557.33,326.10 557.59,324.24 557.84,325.09 558.10,323.10 558.34,325.39 558.59,323.20 558.83,325.89 559.08,328.14 559.32,329.18 559.57,329.75 559.81,328.64 560.06,332.45 560.30,330.80 560.56,329.24 560.82,329.59 561.08,328.69 561.34,323.87 561.60,323.68 561.86,322.71 562.12,322.30 562.38,321.10 562.64,320.28 562.90,320.90 563.16,320.56 563.42,317.21 563.68,319.41 563.94,316.70 564.20,316.94 564.46,319.12 564.72,317.12 564.98,316.08 565.24,314.81 565.50,313.00 565.75,311.36 566.01,309.70 566.26,311.09 566.52,311.78 566.77,309.32 567.02,308.05 567.28,306.99 567.53,307.29 567.78,309.96 568.04,305.84 568.29,305.94 568.55,306.08 568.80,306.30 569.06,305.94 569.31,305.31 569.57,304.85 569.82,304.28 570.08,305.73 570.33,305.94 570.59,306.16 570.84,309.11 571.10,308.50 571.34,309.23 571.59,307.40 571.83,308.06 572.08,311.12 572.32,309.63 572.57,311.34 572.81,310.12 573.06,313.50 573.30,313.60 573.54,313.88 573.79,311.76 574.03,311.70 574.28,313.21 574.52,310.86 574.77,312.38 575.01,310.67 575.26,310.39 575.50,311.90 575.76,311.84 576.01,313.44 576.27,314.42 576.53,314.59 576.79,316.27 577.04,313.67 577.30,315.20 577.57,310.69 577.83,310.59 578.10,306.30 578.36,306.00 578.61,301.87 578.87,302.20 579.13,299.12 579.39,297.24 579.64,297.63 579.90,296.40 580.14,296.78 580.39,298.33 580.63,295.40 580.88,294.60 581.12,295.74 581.37,296.05 581.61,294.21 581.86,295.69 582.10,294.20 582.34,295.99 582.59,294.04 582.83,291.52 583.08,291.78 583.32,292.05 583.57,289.90 583.81,287.81 584.06,290.43 584.30,288.00 584.54,288.16 584.79,287.16 585.03,290.86 585.28,287.41 585.52,288.84 585.77,291.54 586.01,289.20 586.26,288.79 586.50,290.80 586.76,288.88 587.01,286.88 587.27,286.23 587.52,287.38 587.78,282.18 588.03,281.65 588.29,282.72 588.54,282.14 588.80,278.70 589.04,276.40 589.29,275.36 589.53,278.21 589.77,273.25 590.01,275.19 590.26,272.50 590.50,272.00 590.77,272.54 591.03,273.88 591.30,278.72 591.57,277.68 591.83,279.24 592.10,283.10 592.38,280.05 592.65,281.13 592.93,279.27 593.20,277.60 593.46,273.58 593.71,271.44 593.97,267.72 594.23,264.44 594.49,260.97 594.74,258.61 595.00,256.50 595.25,260.06 595.50,260.67 595.75,262.27 596.00,261.80 596.25,263.28 596.50,263.20 596.74,264.35 596.99,263.58 597.23,263.00 597.48,258.92 597.72,262.07 597.97,260.53 598.21,259.38 598.46,258.69 598.70,257.70 598.94,256.86 599.19,258.99 599.43,259.61 599.68,259.28 599.92,260.90 600.17,259.95 600.41,264.73 600.66,263.16 600.90,264.30 601.14,265.83 601.39,263.68 601.63,265.21 601.88,263.85 602.12,261.23 602.37,263.46 602.61,262.12 602.86,258.73 603.10,259.90 603.36,261.77 603.61,263.02 603.87,267.14 604.12,267.43 604.38,266.78 604.63,271.42 604.89,269.91 605.14,274.13 605.40,275.40 605.67,278.58 605.95,283.84 606.23,287.21 606.50,289.70 606.77,285.16 607.05,285.20 607.33,282.54 607.60,276.50 607.84,276.18 608.09,277.14 608.33,274.63 608.58,277.33 608.82,277.68 609.07,276.14 609.31,276.89 609.56,274.85 609.80,276.50 610.05,277.11 610.30,278.16 610.55,281.39 610.80,284.60 611.05,285.17 611.30,284.20 611.56,287.70 611.81,287.94 612.07,290.02 612.33,290.43 612.59,291.72 612.84,294.15 613.10,296.40 613.36,295.99 613.61,298.23 613.87,297.91 614.13,300.95 614.39,303.05 614.64,301.66 614.90,304.10 615.15,305.43 615.40,305.38 615.65,301.34 615.90,305.41 616.15,302.68 616.40,303.00 616.64,300.32 616.89,300.72 617.13,296.88 617.38,295.23 617.62,292.83 617.87,292.59 618.11,292.24 618.36,288.28 618.60,286.40 618.84,288.76 619.09,293.29 619.33,293.71 619.58,294.91 619.82,298.71 620.07,299.46 620.31,302.03 620.56,304.31 620.80,307.40 621.04,305.75 621.29,308.02 621.53,305.15 621.78,301.80 622.02,305.20 622.27,303.78 622.51,301.78 622.76,302.30 623.00,300.80 623.26,302.66 623.51,302.13 623.77,300.87 624.02,301.34 624.28,299.21 624.53,301.61 624.79,299.71 625.04,297.98 625.30,298.60 625.54,297.12 625.79,298.35 626.03,294.95 626.28,295.16 626.52,295.26 626.77,293.16 627.01,291.31 627.26,288.99 627.50,288.60 627.74,286.99 627.99,289.09 628.23,285.82 628.48,287.40 628.72,283.75 628.97,284.37 629.21,282.75 629.46,286.30 629.70,284.20 629.94,285.41 630.19,288.30 630.43,285.95 630.68,291.01 630.92,290.04 631.17,289.98 631.41,292.83 631.66,295.25 631.90,294.20 632.14,294.14 632.39,293.09 632.63,290.47 632.88,289.35 633.12,287.65 633.37,288.05 633.61,287.63 633.86,288.14 634.10,285.30 634.34,284.75 634.59,280.16 634.83,279.56 635.08,277.54 635.32,277.07 635.57,277.25 635.81,273.06 636.06,274.96 636.30,273.10 636.54,274.06 636.79,272.64 637.03,271.25 637.28,269.01 637.52,265.82 637.77,264.80 638.01,265.19 638.26,265.21 638.50,263.20 638.76,263.23 639.01,264.05 639.27,262.03 639.52,263.93 639.78,262.78 640.03,262.78 640.29,260.79 640.54,258.31 640.80,258.80 641.04,256.66 641.29,257.57 641.53,255.33 641.78,257.13 642.02,254.83 642.27,252.28 642.51,254.91 642.76,250.32 643.00,251.00 643.24,254.77 643.49,252.90 643.73,256.86 643.98,255.53 644.22,258.08 644.47,257.76 644.71,261.91 644.96,260.86 645.20,262.10 645.44,260.10 645.69,260.82 645.93,259.47 646.18,257.73 646.42,254.24 646.67,253.78 646.91,253.39 647.16,251.51 647.40,248.80 647.64,248.99 647.89,245.11 648.13,249.13 648.38,246.00 648.62,247.15 648.87,243.94 649.11,245.88 649.36,244.41 649.60,244.40 649.84,246.36 650.09,248.18 650.33,247.95 650.58,251.64 650.82,250.04 651.07,251.25 651.31,255.32 651.56,253.19 651.80,255.40 652.07,253.09 652.35,246.97 652.62,244.49 652.90,238.80 653.14,238.41 653.39,239.08 653.63,237.45 653.88,235.35 654.12,239.09 654.37,237.02 654.61,235.00 654.86,234.61 655.10,232.20 655.35,235.43 655.60,233.86 655.85,237.95 656.10,237.50 656.38,240.90 656.65,244.79 656.93,247.85 657.20,253.00 657.48,246.02 657.75,244.47 658.02,237.11 658.30,232.00 658.57,233.58 658.83,232.48 659.10,231.81 659.37,233.23 659.63,233.51 659.90,235.30 660.16,239.58 660.42,241.20 660.68,242.28 660.94,245.72 661.20,246.40 661.43,245.07 661.65,238.66 661.88,238.49 662.10,233.10 662.34,233.53 662.59,232.00 662.83,231.25 663.07,231.21 663.31,230.56 663.56,228.13 663.80,226.50 664.04,227.28 664.28,225.28 664.52,227.97 664.76,230.73 665.00,229.80 665.27,227.14 665.55,228.16 665.83,223.35 666.10,224.20 666.34,222.45 666.59,222.68 666.83,218.41 667.07,220.78 667.31,219.74 667.56,214.06 667.80,215.40 668.07,215.55 668.33,213.20 668.60,209.80 668.87,208.24 669.13,203.51 669.40,202.10 669.67,198.86 669.95,195.76 670.23,193.18 670.50,193.30 670.77,195.14 671.05,197.40 671.33,198.91 671.60,199.90 671.85,200.97 672.10,199.37 672.35,202.47 672.60,200.31 672.85,199.77 673.10,202.10 673.33,205.64 673.57,206.50 673.80,208.83 674.03,213.78 674.27,214.96 674.50,217.60 674.77,220.10 675.05,226.95 675.33,230.53 675.60,235.30 675.83,237.36 676.05,242.25 676.27,246.39 676.50,250.80 676.80,257.59 677.10,264.10 677.35,267.92 677.60,275.10 677.83,270.59 678.05,269.15 678.27,265.80 678.50,264.10 678.77,258.47 679.03,256.37 679.30,250.80 679.57,247.59 679.85,247.45 680.12,247.93 680.40,248.60 680.67,245.54 680.95,242.47 681.23,241.59 681.50,237.50 681.76,234.08 682.01,233.75 682.27,231.49 682.53,225.34 682.79,224.33 683.04,221.99 683.30,219.80 683.57,220.19 683.85,224.68 684.12,224.48 684.40,224.20 684.67,231.53 684.95,238.37 685.23,244.38 685.50,250.80 685.77,246.42 686.03,246.20 686.30,244.11 686.57,239.19 686.83,238.46 687.10,235.30 687.38,232.13 687.65,228.27 687.93,226.01 688.20,226.50 688.48,230.54 688.75,231.55 689.02,231.27 689.30,235.30 689.57,230.85 689.85,230.22 690.12,227.53 690.40,222.00 690.67,222.60 690.95,225.71 691.23,225.06 691.50,224.20 691.77,221.64 692.05,217.83 692.33,215.16 692.60,213.20 692.88,209.93 693.15,207.17 693.43,204.13 693.70,202.10 693.98,200.59 694.25,197.51 694.52,194.96 694.80,191.10 695.05,187.52 695.30,184.39 695.55,182.61 695.80,180.10 696.07,177.38 696.33,174.50 696.60,172.15 696.87,172.07 697.13,170.18 697.40,167.70 697.63,165.51 697.87,160.84 698.10,156.92 698.33,154.52 698.57,149.69 698.80,148.10 699.05,145.88 699.30,142.75 699.55,143.25 699.80,140.03 700.05,137.03 700.30,134.80 700.53,138.59 700.77,140.91 701.00,141.00 701.25,146.73 701.50,153.40 701.75,166.96 702.00,183.20 702.27,193.36 702.53,200.51 702.80,206.50 703.05,213.46 703.30,218.10 703.60,213.32 703.90,206.50 704.15,196.47 704.40,183.20 704.70,170.24 705.00,157.00 705.23,152.61 705.45,152.05 705.67,151.22 705.90,148.10 706.12,142.61 706.35,142.98 706.57,139.44 706.80,135.70 707.02,130.89 707.25,129.16 707.48,126.11 707.70,121.50 707.93,118.74 708.15,115.29 708.38,110.15 708.60,109.20 708.83,109.18 709.05,104.20 709.27,105.81 709.50,102.00 709.80,95.00 710.00,83.70 710.23,80.73 710.47,77.05 710.70,71.30 710.95,61.59 711.20,51.90 711.50,42.81 711.80,34.20 712.10,28.00" class="ln ln2"/>
<text x="0.10" y="450.1" class="yl" textLength="12.2" lengthAdjust="spacingAndGlyphs">1987</text>
<text x="20.17" y="450.1" class="yl" textLength="12.2" lengthAdjust="spacingAndGlyphs">1988</text>
<text x="41.51" y="450.1" class="yl" textLength="12.2" lengthAdjust="spacingAndGlyphs">1989</text>
<text x="62.85" y="450.1" class="yl" textLength="12.2" lengthAdjust="spacingAndGlyphs">1990</text>
<text x="84.19" y="450.1" class="yl" textLength="12.2" lengthAdjust="spacingAndGlyphs">1991</text>
<text x="105.53" y="450.1" class="yl" textLength="12.2" lengthAdjust="spacingAndGlyphs">1992</text>
<text x="126.87" y="450.1" class="yl" textLength="12.2" lengthAdjust="spacingAndGlyphs">1993</text>
<text x="148.21" y="450.1" class="yl" textLength="12.2" lengthAdjust="spacingAndGlyphs">1994</text>
<text x="169.55" y="450.1" class="yl" textLength="12.2" lengthAdjust="spacingAndGlyphs">1995</text>
<text x="190.89" y="450.1" class="yl" textLength="12.2" lengthAdjust="spacingAndGlyphs">1996</text>
<text x="212.23" y="450.1" class="yl" textLength="12.2" lengthAdjust="spacingAndGlyphs">1997</text>
<text x="233.57" y="450.1" class="yl" textLength="12.2" lengthAdjust="spacingAndGlyphs">1998</text>
<text x="254.91" y="450.1" class="yl" textLength="12.2" lengthAdjust="spacingAndGlyphs">1999</text>
<text x="276.25" y="450.1" class="yl" textLength="12.2" lengthAdjust="spacingAndGlyphs">2000</text>
<text x="297.59" y="450.1" class="yl" textLength="12.2" lengthAdjust="spacingAndGlyphs">2001</text>
<text x="318.93" y="450.1" class="yl" textLength="12.2" lengthAdjust="spacingAndGlyphs">2002</text>
<text x="340.27" y="450.1" class="yl" textLength="12.2" lengthAdjust="spacingAndGlyphs">2003</text>
<text x="361.61" y="450.1" class="yl" textLength="12.2" lengthAdjust="spacingAndGlyphs">2004</text>
<text x="382.95" y="450.1" class="yl" textLength="12.2" lengthAdjust="spacingAndGlyphs">2005</text>
<text x="404.29" y="450.1" class="yl" textLength="12.2" lengthAdjust="spacingAndGlyphs">2006</text>
<text x="425.63" y="450.1" class="yl" textLength="12.2" lengthAdjust="spacingAndGlyphs">2007</text>
<text x="446.97" y="450.1" class="yl" textLength="12.2" lengthAdjust="spacingAndGlyphs">2008</text>
<text x="468.31" y="450.1" class="yl" textLength="12.2" lengthAdjust="spacingAndGlyphs">2009</text>
<text x="489.65" y="450.1" class="yl" textLength="12.2" lengthAdjust="spacingAndGlyphs">2010</text>
<text x="510.99" y="450.1" class="yl" textLength="12.2" lengthAdjust="spacingAndGlyphs">2011</text>
<text x="532.33" y="450.1" class="yl" textLength="12.2" lengthAdjust="spacingAndGlyphs">2012</text>
<text x="553.67" y="450.1" class="yl" textLength="12.2" lengthAdjust="spacingAndGlyphs">2013</text>
<text x="575.01" y="450.1" class="yl" textLength="12.2" lengthAdjust="spacingAndGlyphs">2014</text>
<text x="596.35" y="450.1" class="yl" textLength="12.2" lengthAdjust="spacingAndGlyphs">2015</text>
<text x="617.69" y="450.1" class="yl" textLength="12.2" lengthAdjust="spacingAndGlyphs">2016</text>
<text x="639.03" y="450.1" class="yl" textLength="12.2" lengthAdjust="spacingAndGlyphs">2017</text>
<text x="660.37" y="450.1" class="yl" textLength="12.2" lengthAdjust="spacingAndGlyphs">2018</text>
<text x="681.71" y="450.1" class="yl" textLength="12.2" lengthAdjust="spacingAndGlyphs">2019</text>
<text x="703.34" y="450.1" class="yl" textLength="12.2" lengthAdjust="spacingAndGlyphs">2020</text>
<text x="728.45" y="403.95" class="rl" textLength="3.70" lengthAdjust="spacingAndGlyphs">0</text>
<text x="728.35" y="310.45" class="rl" textLength="11.00" lengthAdjust="spacingAndGlyphs">0.5T</text>
<text x="728.25" y="217.45" class="rl" textLength="6.70" lengthAdjust="spacingAndGlyphs">1T</text>
<text x="728.45" y="123.75" class="rl" textLength="10.70" lengthAdjust="spacingAndGlyphs">1.5T</text>
<text x="727.25" y="29.45" class="rl" textLength="5.50" lengthAdjust="spacingAndGlyphs">2T</text>
<text class="tt" y="19.6"><tspan x="32.37" textLength="25.63" lengthAdjust="spacingAndGlyphs">$2</tspan> <tspan x="62.51" textLength="83.63" lengthAdjust="spacingAndGlyphs">Trillion</tspan> <tspan x="151.00" textLength="80.67" lengthAdjust="spacingAndGlyphs">Market</tspan> <tspan x="237.40" textLength="44.51" lengthAdjust="spacingAndGlyphs">Cap</tspan></text>
<text class="tt" y="203.9"><tspan x="28.85" textLength="23.72" lengthAdjust="spacingAndGlyphs">$1</tspan> <tspan x="56.90" textLength="83.71" lengthAdjust="spacingAndGlyphs">Trillion</tspan> <tspan x="146.00" textLength="80.23" lengthAdjust="spacingAndGlyphs">Market</tspan> <tspan x="231.94" textLength="45.77" lengthAdjust="spacingAndGlyphs">Cap</tspan></text>
</svg>
</body></html>
